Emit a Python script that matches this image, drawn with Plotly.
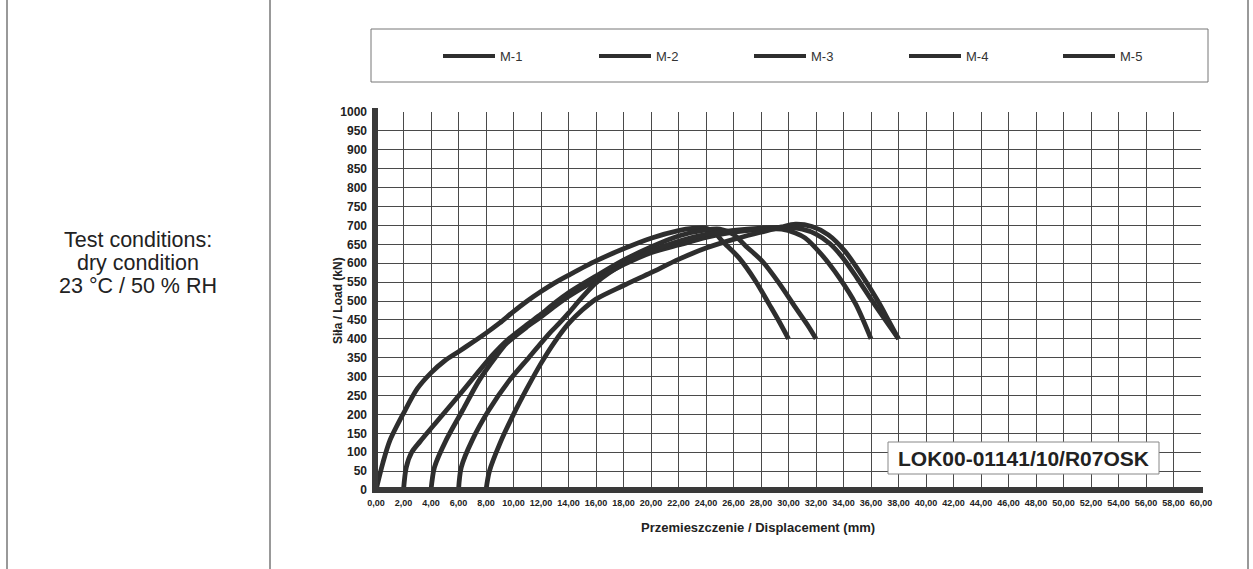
import plotly.graph_objects as go

# ---------------- data ----------------
series_names = ["M-1", "M-2", "M-3", "M-4", "M-5"]

m1_x = [0, 0.5, 1, 2, 3, 4, 5, 6, 7, 8, 9, 10, 11, 12, 13, 14, 16, 18, 20, 22, 23, 24, 24.6, 25.2, 26.4, 27.6, 28.6, 29.3, 30]
m1_y = [0, 72, 130, 203, 268, 310, 342, 366, 390, 415, 442, 472, 500, 525, 548, 568, 606, 638, 666, 686, 692, 693, 682, 658, 614, 553, 491, 447, 400]

m2_x = [2, 2.2, 2.6, 3.2, 4.4, 5.8, 7.3, 8.5, 9.5, 11, 12, 13, 14, 16, 18, 20, 22, 24, 25, 26, 26.9, 28.1, 29.3, 30.5, 31.5, 32]
m2_y = [0, 60, 100, 128, 180, 240, 306, 358, 395, 438, 465, 495, 522, 566, 608, 643, 672, 688, 690, 676, 645, 605, 548, 483, 430, 400]

m3_x = [4, 4.25, 5.1, 6.3, 7.5, 8.7, 9.5, 11, 12, 13, 14, 16, 18, 20, 22, 24, 26, 28, 29.5, 30.5, 31.2, 32.4, 33.7, 34.9, 36]
m3_y = [0, 60, 132, 211, 290, 352, 388, 432, 458, 486, 512, 556, 596, 628, 648, 668, 682, 689, 690, 680, 667, 623, 561, 491, 400]

m4_x = [6, 6.2, 7.0, 8.2, 9.7, 11.15, 12.6, 13.3, 14, 15, 16, 18, 20, 22, 24, 26, 28, 30, 31, 32, 33, 34, 35, 36, 37, 38]
m4_y = [0, 60, 132, 211, 290, 352, 414, 440, 468, 510, 548, 598, 632, 658, 676, 687, 693, 694, 690, 677, 652, 612, 560, 505, 452, 400]

m5_x = [8, 8.25, 9, 10, 11, 12, 13, 14, 15, 16, 18, 20, 22, 24, 26, 28, 29.5, 30.5, 31.7, 32.9, 34.1, 35.3, 36.5, 37.3, 38]
m5_y = [0, 50, 122, 200, 270, 335, 392, 440, 476, 505, 541, 575, 610, 640, 663, 682, 696, 703, 697, 675, 632, 570, 500, 447, 400]

series_x = [m1_x, m2_x, m3_x, m4_x, m5_x]
series_y = [m1_y, m2_y, m3_y, m4_y, m5_y]

x_tick_values = list(range(0, 61, 2))
x_tick_labels = ["0,00", "2,00", "4,00", "6,00", "8,00", "10,00", "12,00", "14,00", "16,00", "18,00",
                 "20,00", "22,00", "24,00", "26,00", "28,00", "30,00", "32,00", "34,00", "36,00", "38,00",
                 "40,00", "42,00", "44,00", "46,00", "48,00", "50,00", "52,00", "54,00", "56,00", "58,00", "60,00"]
y_tick_values = list(range(0, 1001, 50))

x_title = "Przemieszczenie / Displacement (mm)"
y_title = "Siła / Load (kN)"
stamp_text = "LOK00-01141/10/R07OSK"
condition_lines = ["Test conditions:", "dry condition", "23 °C / 50 % RH"]

# ---------------- layout geometry (pixels) ----------------
W, H = 1253, 569
PL, PR, PT, PB = 376, 1201, 112, 490
pw, ph = PR - PL, PB - PT


def px(xp):
    return (xp - PL) / pw


def py(yp):
    return (PB - yp) / ph


FONT = "Liberation Sans, Arial, sans-serif"
LINE_COLOR = "#2e2e2e"

fig = go.Figure()
for name, xs, ys in zip(series_names, series_x, series_y):
    fig.add_trace(go.Scatter(x=xs, y=ys, name=name, mode="lines",
                             line=dict(color=LINE_COLOR, width=4.8, shape="spline", smoothing=0.8),
                             showlegend=False))

shapes = []
annotations = []

# outer table frame
for xv in [7, 270, 1248]:
    shapes.append(dict(type="line", xref="paper", yref="paper", x0=px(xv), x1=px(xv), y0=py(0), y1=py(H),
                       line=dict(color="#555", width=1.2)))

# legend box
shapes.append(dict(type="rect", xref="paper", yref="paper", x0=px(371), x1=px(1208), y0=py(29), y1=py(82),
                   line=dict(color="#777", width=1), fillcolor="white", layer="below"))
legend_starts = [443, 599, 754, 909, 1063]
for name, lx in zip(series_names, legend_starts):
    shapes.append(dict(type="line", xref="paper", yref="paper", x0=px(lx), x1=px(lx + 52), y0=py(56), y1=py(56),
                       line=dict(color=LINE_COLOR, width=4)))
    annotations.append(dict(xref="paper", yref="paper", x=px(lx + 55), y=py(56), text=name, showarrow=False,
                            xanchor="left", yanchor="middle", font=dict(family=FONT, size=13, color="#333")))

# thick axis lines
shapes.append(dict(type="line", xref="paper", yref="paper", x0=px(373), x1=px(1203), y0=py(490), y1=py(490),
                   line=dict(color="#3a3a3a", width=6)))
shapes.append(dict(type="line", xref="paper", yref="paper", x0=px(375), x1=px(375), y0=py(493), y1=py(108),
                   line=dict(color="#3a3a3a", width=6)))

# stamp box
shapes.append(dict(type="rect", xref="paper", yref="paper", x0=px(888), x1=px(1159), y0=py(442), y1=py(474),
                   line=dict(color="#888", width=1), fillcolor="white"))
annotations.append(dict(xref="paper", yref="paper", x=px(1023.5), y=py(458), text="<b>" + stamp_text + "</b>",
                        showarrow=False, xanchor="center", yanchor="middle",
                        font=dict(family=FONT, size=21, color="#222")))

# axis titles
annotations.append(dict(xref="paper", yref="paper", x=px(758), y=py(527), text="<b>" + x_title + "</b>",
                        showarrow=False, xanchor="center", yanchor="middle",
                        font=dict(family=FONT, size=13, color="#222")))
annotations.append(dict(xref="paper", yref="paper", x=px(338), y=py(301), text="<b>" + y_title + "</b>",
                        showarrow=False, textangle=-90, xanchor="center", yanchor="middle",
                        font=dict(family=FONT, size=12, color="#222")))

# left cell text
for i, line in enumerate(condition_lines):
    annotations.append(dict(xref="paper", yref="paper", x=px(138.5), y=py(240 + 23 * i), text=line,
                            showarrow=False, xanchor="center", yanchor="middle",
                            font=dict(family=FONT, size=21.5, color="#222")))

fig.update_layout(
    width=W, height=H,
    margin=dict(l=PL, r=W - PR, t=PT, b=H - PB, pad=0),
    paper_bgcolor="white", plot_bgcolor="white",
    showlegend=False,
    shapes=shapes, annotations=annotations,
    xaxis=dict(range=[0, 60], tickvals=x_tick_values, ticktext=x_tick_labels,
               showgrid=True, gridcolor="#4a4a4a", gridwidth=1, zeroline=False, showline=False,
               ticks="", tickfont=dict(family=FONT, size=9, color="#222", weight="bold"),
               ticklabelstandoff=6, fixedrange=True),
    yaxis=dict(range=[0, 1000], tickvals=y_tick_values, tickformat="d",
               showgrid=True, gridcolor="#4a4a4a", gridwidth=1, zeroline=False, showline=False,
               ticks="", tickfont=dict(family=FONT, size=12, color="#222", weight="bold"),
               ticklabelstandoff=8, fixedrange=True),
)

fig.write_html("out.html", config={"displayModeBar": False, "staticPlot": True},
               post_script="document.body.style.margin='0';document.body.style.overflow='hidden';")
